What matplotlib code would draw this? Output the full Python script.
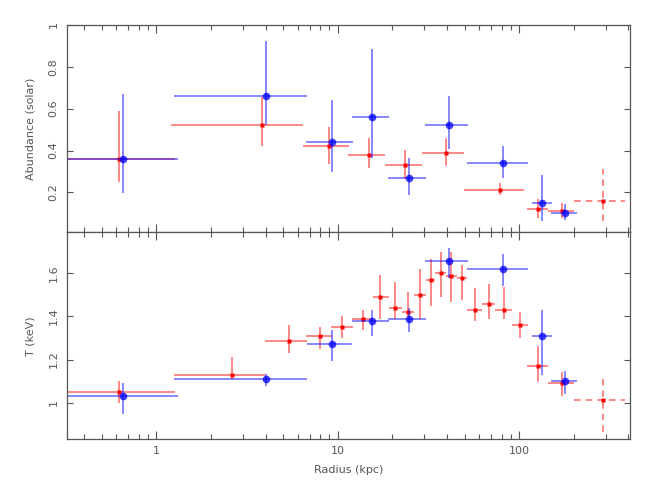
import numpy as np
import matplotlib
matplotlib.use('Agg')
import matplotlib.pyplot as plt
from matplotlib.ticker import FuncFormatter, LogLocator, MultipleLocator, NullFormatter

# abundance profile, red set (last bin is the dashed one)
ab_red_r = [0.62, 3.83, 8.95, 14.8, 23.6, 39.3, 78.2, 127.8, 172, 290]
ab_red_rlo = [0.2, 1.20, 6.41, 11.4, 18.1, 29.0, 49.4, 111, 145, 200]
ab_red_rhi = [1.26, 6.46, 11.5, 18.3, 29.2, 49.9, 107, 145, 200, 382]
ab_red = [0.36, 0.52, 0.42, 0.38, 0.33, 0.39, 0.21, 0.12, 0.11, 0.16]
ab_red_lo = [0.25, 0.42, 0.335, 0.317, 0.262, 0.327, 0.187, 0.079, 0.079, 0.064]
ab_red_hi = [0.59, 0.656, 0.513, 0.462, 0.402, 0.462, 0.243, 0.171, 0.150, 0.311]

# abundance profile, blue set
ab_blue_r = [0.654, 4.0, 9.34, 15.5, 24.7, 41.2, 81.9, 134.5, 180]
ab_blue_rlo = [0.2, 1.25, 6.7, 12.0, 18.9, 30.3, 51.8, 117, 150]
ab_blue_rhi = [1.32, 6.74, 12.1, 19.2, 30.7, 52.3, 112, 152, 209]
ab_blue = [0.36, 0.658, 0.44, 0.559, 0.27, 0.52, 0.34, 0.15, 0.10]
ab_blue_lo = [0.198, 0.52, 0.298, 0.362, 0.187, 0.408, 0.27, 0.064, 0.068]
ab_blue_hi = [0.671, 0.922, 0.641, 0.882, 0.362, 0.661, 0.421, 0.283, 0.143]

# temperature profile, red set
t_red_r = [0.624, 2.62, 5.38, 7.98, 10.6, 13.7, 17.2, 20.7, 24.4, 28.5, 32.6,
           37.2, 42.1, 48.4, 57.1, 67.9, 82.2, 101.3, 127.8, 172, 290]
t_red_rlo = [0.2, 1.25, 3.98, 6.68, 9.21, 12.0, 15.6, 19.1, 22.6, 26.4, 30.6,
             34.2, 39.4, 45.2, 51.6, 62.6, 74.0, 91.5, 111, 145, 200]
t_red_rhi = [1.26, 3.98, 6.74, 9.31, 12.1, 15.7, 19.1, 22.6, 26.4, 30.6, 34.2,
             39.4, 45.2, 51.9, 62.6, 74.0, 91.5, 112, 145, 200, 382]
t_red = [1.049, 1.129, 1.288, 1.310, 1.350, 1.388, 1.489, 1.439, 1.419, 1.50, 1.571,
         1.60, 1.589, 1.58, 1.43, 1.459, 1.43, 1.359, 1.169, 1.091, 1.011]
t_red_lo = [0.998, 1.109, 1.228, 1.250, 1.30, 1.339, 1.387, 1.39, 1.398, 1.39, 1.447,
            1.489, 1.467, 1.478, 1.378, 1.387, 1.387, 1.299, 1.097, 1.029, 0.865]
t_red_hi = [1.10, 1.210, 1.359, 1.349, 1.401, 1.429, 1.591, 1.560, 1.511, 1.62, 1.668,
            1.70, 1.70, 1.637, 1.532, 1.55, 1.537, 1.419, 1.262, 1.14, 1.109]

# temperature profile, blue set
t_blue_r = [0.654, 4.0, 9.34, 15.5, 24.7, 41.2, 81.9, 134.5, 180]
t_blue_rlo = [0.2, 1.25, 6.74, 12.0, 18.9, 30.4, 51.8, 117, 150]
t_blue_rhi = [1.32, 6.74, 12.0, 19.1, 30.6, 52.3, 112, 152, 209]
t_blue = [1.029, 1.109, 1.270, 1.379, 1.388, 1.659, 1.619, 1.31, 1.099]
t_blue_lo = [0.949, 1.078, 1.193, 1.310, 1.328, 1.578, 1.54, 1.129, 1.038]
t_blue_hi = [1.091, 1.132, 1.335, 1.429, 1.44, 1.719, 1.687, 1.429, 1.149]

grey = '#555555'


def draw(ax, r, rlo, rhi, v, vlo, vhi, color, marker, ms, ls='-'):
    r = np.array(r); v = np.array(v)
    xerr = [r - np.array(rlo), np.array(rhi) - r]
    yerr = [v - np.array(vlo), np.array(vhi) - v]
    eb = ax.errorbar(r, v, xerr=xerr, yerr=yerr, fmt='none',
                     ecolor=color, elinewidth=1.2, alpha=0.55, capsize=0)
    for lc in eb[2]:
        lc.set_linestyle((0, (4, 3)) if ls == '--' else '-')
    ax.plot(r, v, marker, color=color, ms=ms, mec='none', alpha=0.75 if marker == 'o' else 1)


def style(ax):
    ax.set_xscale('log')
    ax.set_xlim(0.32, 410)
    for s in ax.spines.values():
        s.set_color(grey)
        s.set_linewidth(0.9)
    ax.tick_params(which='both', direction='in', top=True, right=True,
                   colors=grey, labelsize=8, width=0.8)
    ax.tick_params(axis='x', which='major', length=6, pad=5)
    ax.tick_params(axis='x', which='minor', length=3.5)
    ax.tick_params(axis='y', which='major', length=4.5, pad=6)
    ax.xaxis.set_major_locator(LogLocator(base=10))
    ax.xaxis.set_minor_locator(LogLocator(base=10, subs=np.arange(2, 10)))
    ax.xaxis.set_minor_formatter(NullFormatter())
    ax.yaxis.set_major_formatter(FuncFormatter(lambda y, p: '%g' % round(y, 2)))
    for lab in ax.get_yticklabels():
        lab.set_rotation(90)
        lab.set_va('center')


fig = plt.figure(figsize=(6.64, 4.94), dpi=100)
ax1 = fig.add_axes([0.1004, 0.5298, 0.8488, 0.4202])
ax2 = fig.add_axes([0.1004, 0.1107, 0.8488, 0.4191])

# top: abundance
draw(ax1, ab_red_r[:-1], ab_red_rlo[:-1], ab_red_rhi[:-1], ab_red[:-1],
     ab_red_lo[:-1], ab_red_hi[:-1], 'red', 's', 2.7)
draw(ax1, ab_red_r[-1:], ab_red_rlo[-1:], ab_red_rhi[-1:], ab_red[-1:],
     ab_red_lo[-1:], ab_red_hi[-1:], 'red', 's', 2.7, ls='--')
draw(ax1, ab_blue_r, ab_blue_rlo, ab_blue_rhi, ab_blue, ab_blue_lo, ab_blue_hi,
     'blue', 'o', 5.5)
ax1.set_ylim(0.01, 1.0)
ax1.yaxis.set_major_locator(MultipleLocator(0.2))
style(ax1)
ax1.xaxis.set_major_formatter(NullFormatter())
ax1.set_ylabel('Abundance (solar)', fontsize=8, color=grey, labelpad=9)

# bottom: temperature
draw(ax2, t_red_r[:-1], t_red_rlo[:-1], t_red_rhi[:-1], t_red[:-1],
     t_red_lo[:-1], t_red_hi[:-1], 'red', 's', 2.7)
draw(ax2, t_red_r[-1:], t_red_rlo[-1:], t_red_rhi[-1:], t_red[-1:],
     t_red_lo[-1:], t_red_hi[-1:], 'red', 's', 2.7, ls='--')
draw(ax2, t_blue_r, t_blue_rlo, t_blue_rhi, t_blue, t_blue_lo, t_blue_hi,
     'blue', 'o', 5.5)
ax2.set_ylim(0.83, 1.79)
ax2.yaxis.set_major_locator(MultipleLocator(0.2))
style(ax2)
ax2.xaxis.set_major_formatter(FuncFormatter(lambda x, p: '%g' % x))
ax2.set_ylabel('T (keV)', fontsize=8, color=grey, labelpad=9)
ax2.set_xlabel('Radius (kpc)', fontsize=8, color=grey, labelpad=6)

fig.savefig('out.png', dpi=100)
